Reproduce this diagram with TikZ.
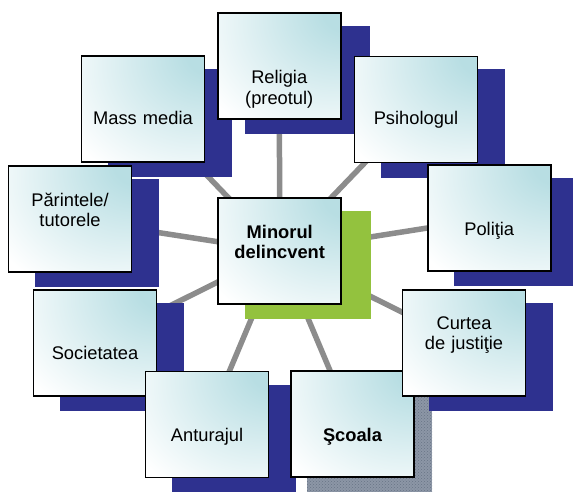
\documentclass[tikz,border=0pt]{standalone}
\usepackage{fontspec}
\setmainfont{Liberation Sans}
\usetikzlibrary{backgrounds,patterns}
\definecolor{boxteal}{RGB}{184,222,227}
\definecolor{shblue}{RGB}{46,49,143}
\definecolor{shgreen}{RGB}{147,194,62}
\definecolor{conngray}{RGB}{140,140,140}
\definecolor{hatchbg}{RGB}{140,150,166}
\definecolor{hatchfg}{RGB}{104,116,134}
\pgfdeclareradialshading{boxsh}{\pgfpoint{30bp}{28bp}}{color(0bp)=(boxteal); color(10bp)=(boxteal); color(56bp)=(white); color(140bp)=(white)}
\tikzset{
  obox/.style={draw=black, line width=1.8pt, shade, shading=boxsh, minimum width=123pt, minimum height=106pt, inner sep=0pt},
  shd/.style={fill=shblue, minimum width=124.5pt, minimum height=108pt, inner sep=0pt},
  shdgreen/.style={fill=shgreen, minimum width=125.5pt, minimum height=108pt, inner sep=0pt},
  shdhatch/.style={preaction={fill=hatchbg}, pattern=crosshatch dots, pattern color=hatchfg, minimum width=125pt, minimum height=108pt, inner sep=0pt},
  lbl/.style={anchor=base, text width=120pt, align=center, inner sep=0pt, font=\fontsize{18.3}{20.8}\selectfont},
  blbl/.style={lbl, font=\fontsize{18.3}{20.8}\selectfont\bfseries},
  conn/.style={draw=conngray, line width=5.5pt}
}
\begin{document}
\begin{tikzpicture}[x=1pt,y=-1pt]
\useasboundingbox (0,0) rectangle (573,492);
\clip (0,0) rectangle (573,492);
% Mass media
\node[shd] (mass-s) at (170,122.75) {};
\node[obox] (mass) at (143,108.75) {};
\node[lbl] (mass-t) at (143,125) {Mass media};
% Religia
\node[shd] (rel-s) at (307.25,79.75) {};
\node[obox] (rel) at (279.25,65.75) {};
\node[lbl] (rel-t) at (279.25,84) {Religia\\(preotul)};
% Psihologul
\node[shd] (psi-s) at (443,123.5) {};
\node[obox] (psi) at (416,109.5) {};
\node[lbl] (psi-t) at (416,125) {Psihologul};
% Politia
\node[shd] (pol-s) at (516.25,232.25) {};
\node[obox] (pol) at (489.25,218.25) {};
\node[lbl] (pol-t) at (489.25,235) {Poliţia};
% Societatea
\node[shd] (soc-s) at (122,357) {};
\node[obox] (soc) at (95,343) {};
\node[lbl] (soc-t) at (95,359) {Societatea};
% Anturajul
\node[shd] (ant-s) at (234,438.5) {};
\node[obox] (ant) at (207,424.5) {};
\node[lbl] (ant-t) at (207,441) {Anturajul};
% Scoala
\node[shdhatch] (sco-s) at (369.5,438) {};
\node[obox] (sco) at (352.5,424) {};
\node[blbl] (sco-t) at (352.5,441) {Şcoala};
% Curtea
\node[shd] (cur-s) at (491,357) {};
\node[obox] (cur) at (464,343) {};
\node[lbl] (cur-t) at (464,329) {Curtea\\de justiţie};
% Parintele
\node[shd] (par-s) at (97,232.5) {};
\node[obox] (par) at (70,219) {};
\node[lbl] (par-t) at (70,206) {Părintele/\\tutorele};
% Center
\node[shdgreen] (cen-s) at (307.75,265.25) {};
\node[obox] (cen) at (279.75,251.25) {};
\node[blbl] (cen-t) at (279.75,238) {Minorul\\delincvent};
% connectors
\begin{scope}[on background layer]
\foreach \n in {mass,rel,psi,pol,cur,sco,ant,soc,par}
  \draw[conn] (cen.center) -- (\n.center);
\end{scope}
\end{tikzpicture}
\end{document}
